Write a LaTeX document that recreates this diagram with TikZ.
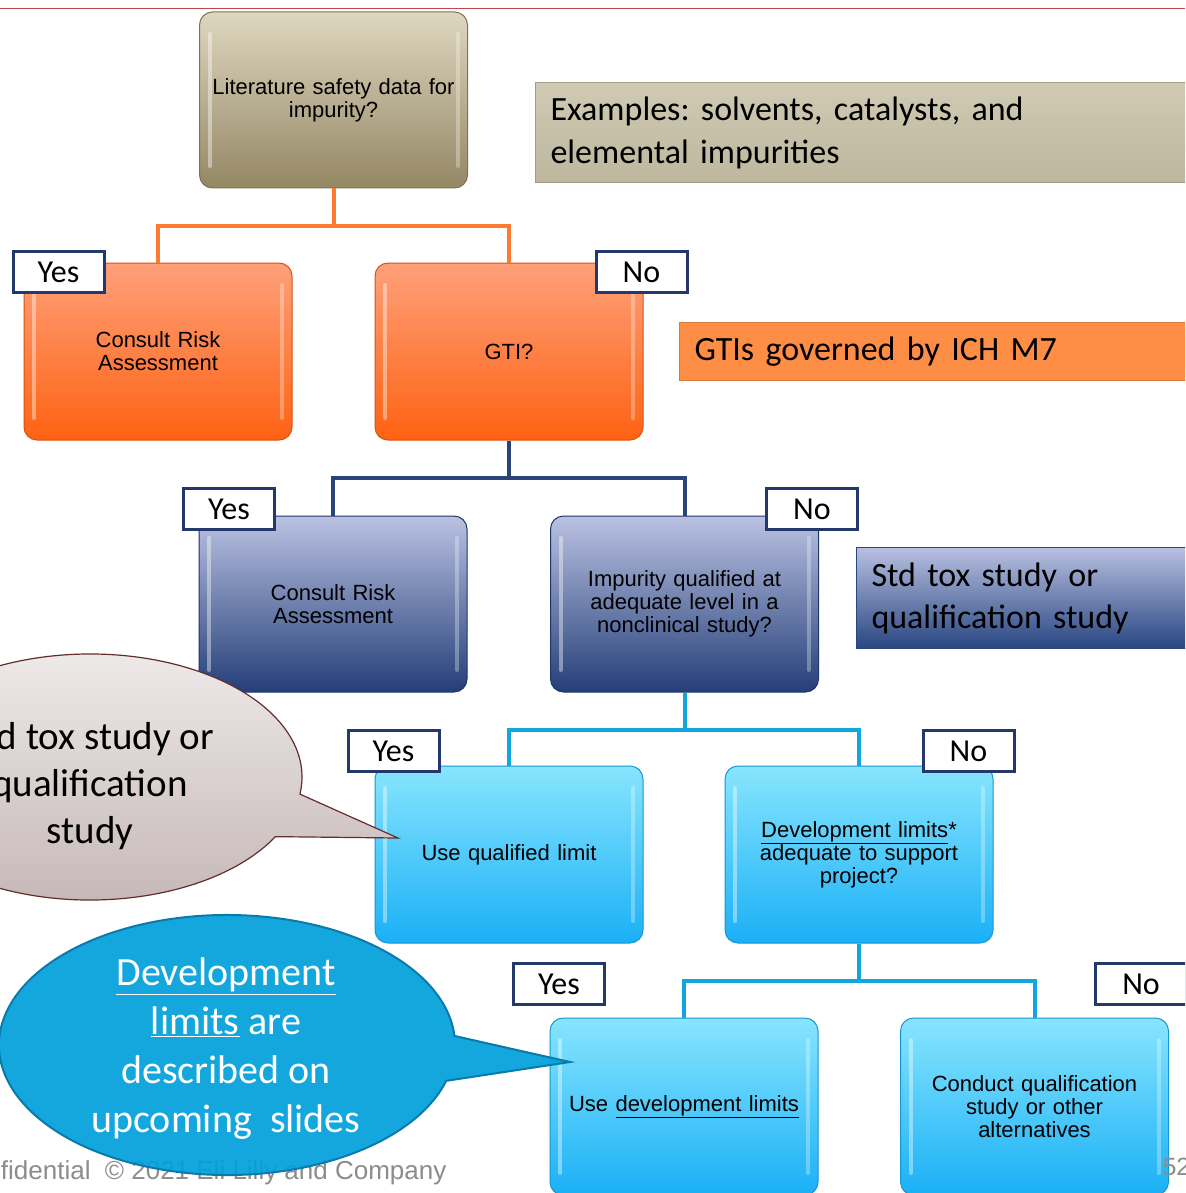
\documentclass[tikz,border=0pt]{standalone}
\usepackage{fontspec}
\setmainfont{Liberation Sans}
\newfontfamily\calfont{Carlito}
\frenchspacing

\definecolor{navy}{RGB}{36,57,107}
\definecolor{rule}{RGB}{196,70,70}
\definecolor{tanTop}{RGB}{222,215,192}
\definecolor{tanBot}{RGB}{148,135,100}
\definecolor{orTop}{RGB}{254,160,122}
\definecolor{orBot}{RGB}{254,98,18}
\definecolor{nvTop}{RGB}{186,194,226}
\definecolor{nvBot}{RGB}{36,62,120}
\definecolor{cyTop}{RGB}{136,229,254}
\definecolor{cyBot}{RGB}{26,176,246}
\definecolor{orLine}{RGB}{253,122,50}
\definecolor{nvLine}{RGB}{42,68,122}
\definecolor{cyLine}{RGB}{18,166,224}
\definecolor{exTop}{RGB}{208,202,180}
\definecolor{exBot}{RGB}{190,183,158}
\definecolor{gtiFill}{RGB}{254,142,70}
\definecolor{stdTop}{RGB}{184,192,224}
\definecolor{stdBot}{RGB}{40,70,130}
\definecolor{calTop}{RGB}{240,237,236}
\definecolor{calBot}{RGB}{196,181,181}
\definecolor{calEdge}{RGB}{100,45,42}
\definecolor{devFill}{RGB}{0,160,220}
\definecolor{devEdge}{RGB}{10,122,170}
\definecolor{foot}{RGB}{140,140,140}

\tikzset{every node/.style={font=\fontsize{22}{23}\selectfont},
  box/.style={rounded corners=13pt, minimum width=268pt, minimum height=177pt,
    text width=250pt, align=center, inner sep=0pt, line width=1pt,
    path picture={
      \draw[white,opacity=.4,line width=4pt,line cap=round]
        ([shift={(10pt,-22pt)}]path picture bounding box.north west) --
        ([shift={(10pt,22pt)}]path picture bounding box.south west);
      \draw[white,opacity=.3,line width=4pt,line cap=round]
        ([shift={(-10pt,-22pt)}]path picture bounding box.north east) --
        ([shift={(-10pt,22pt)}]path picture bounding box.south east);}},
  tanbox/.style={box, top color=tanTop, bottom color=tanBot, draw=tanBot!85!black},
  orbox/.style={box, top color=orTop, bottom color=orBot, draw=orBot!85!black},
  nvbox/.style={box, top color=nvTop, bottom color=nvBot, draw=nvBot!85!black},
  cybox/.style={box, top color=cyTop, bottom color=cyBot, draw=cyBot!85!black},
  tag/.style={draw=navy, line width=3pt, fill=white, minimum width=91pt,
    minimum height=41pt, inner sep=0pt, font=\calfont\fontsize{32}{32}\selectfont},
  note/.style={anchor=north west, minimum width=660pt, inner xsep=12pt,
    text width=630pt, align=left, line width=1pt,
    font=\calfont\fontsize{34}{43}\selectfont},
  link/.style={line width=4pt},
}

\begin{document}
\begin{tikzpicture}[x=1pt,y=-1pt]
    \useasboundingbox (0,0) rectangle (1185,1193);
    \clip (0,0) rectangle (1185,1193);
    \fill[white] (0,0) rectangle (1185,1193);
    \draw[rule,line width=1pt] (0,9) -- (1185,9);

    \node[tanbox, minimum height=176pt] (lit) at (333.5,100) {Literature safety data for\\impurity?};
    \node[orbox] (craA) at (158,351.5) {Consult Risk\\Assessment};
    \node[orbox] (gti) at (509,351.5) {GTI?};
    \node[nvbox, minimum height=176pt] (craB) at (333,604) {Consult Risk\\Assessment};
    \node[nvbox, minimum height=176pt] (imp) at (684.5,604) {Impurity qualified at\\adequate level in a\\nonclinical study?};
    \node[cybox] (useq) at (509,854.5) {Use qualified limit};
    \node[cybox] (dev) at (859,854.5) {\underline{Development limits}*\\adequate to support\\project?};
    \node[cybox] (usedev) at (684,1106.5) {Use \underline{development limits}};
    \node[cybox] (conduct) at (1034.5,1106.5) {Conduct qualification\\study or other\\alternatives};

    \draw[link,orLine] (lit.south) -- ++(0,37) coordinate (jA) -| (craA.north);
    \draw[link,orLine] (jA) -| (gti.north);
    \draw[link,nvLine] (gti.south) -- ++(0,37) coordinate (jB) -| (craB.north);
    \draw[link,nvLine] (jB) -| (imp.north);
    \draw[link,cyLine] (imp.south) -- ++(0,37) coordinate (jC) -| (useq.north);
    \draw[link,cyLine] (jC) -| (dev.north);
    \draw[link,cyLine] (dev.south) -- ++(0,37) coordinate (jD) -| (usedev.north);
    \draw[link,cyLine] (jD) -| (conduct.north);

    \foreach \n/\x/\y/\t in {yesA/58.5/272/Yes,noA/641.5/272/No,yesB/229/509/Yes,noB/812/509/No,
      yesC/393.5/751/Yes,noC/968.5/751/No,yesD/559/984/Yes,noD/1141/984/No}{
        \node[tag] (\n) at (\x,\y) {\t};
    }

    \node[note, top color=exTop, bottom color=exBot, draw=exBot!85!black, minimum height=100pt] (examples) at (535,82)
        {Examples: solvents, catalysts, and\\elemental impurities};
    \node[note, fill=gtiFill, draw=gtiFill!85!black, minimum height=58pt] (ich) at (679,322)
        {GTIs governed by ICH M7};
    \node[note, top color=stdTop, bottom color=stdBot, draw=stdBot, minimum height=101pt,
        font=\calfont\fontsize{34}{42}\selectfont] (stdtox) at (856,547)
        {Std tox study or\\qualification study};

    \node[anchor=base east, text=foot, font=\fontsize{26}{26}\selectfont] (footer) at (450,1179)
        {Confidential \ \textcopyright\ 2021 Eli Lilly and Company};
    \node[anchor=base west, text=foot, font=\fontsize{25}{25}\selectfont] (page) at (1159,1175) {52};

    \draw[calEdge, line width=1.2pt, top color=calTop, bottom color=calBot]
        (398,838) -- ([shift={(90,777)}]29:212 and 123) arc[start angle=29, end angle=368, x radius=212, y radius=123] -- cycle;
    \node[align=center, font=\calfont\fontsize{39}{47}\selectfont] (grayNote) at (90,786)
        {Std tox study or\\qualification\\study};

    \draw[devEdge, line width=2pt, fill=devFill, fill opacity=.92]
        (570,1062) -- ([shift={(227,1045)}]16:228 and 130) arc[start angle=16, end angle=356, x radius=228, y radius=130] -- cycle;
    \node[align=center, text=white, font=\calfont\fontsize{40}{49}\selectfont] (devNote) at (226,1049)
        {\underline{Development}\\\underline{limits} are\\described on\\upcoming \ slides};
\end{tikzpicture}
\end{document}
